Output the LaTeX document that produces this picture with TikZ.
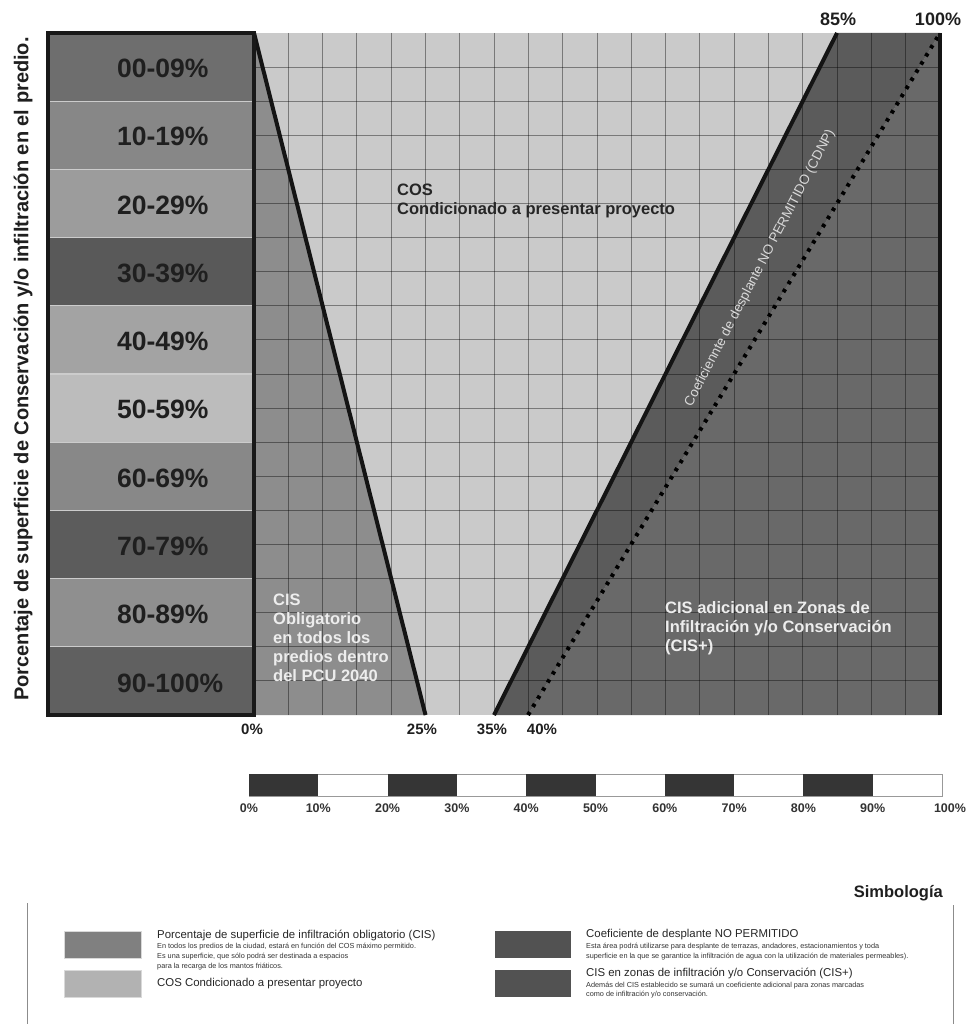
\documentclass[tikz,border=0pt]{standalone}
\usepackage{fontspec}
\setmainfont{Liberation Sans}
\definecolor{cosgray}{HTML}{CACACA}
\definecolor{cisgray}{HTML}{8D8D8D}
\definecolor{cdnpgray}{HTML}{5B5B5B}
\definecolor{cisplus}{HTML}{696969}
\definecolor{bardark}{HTML}{353535}
\begin{document}
\begin{tikzpicture}[x=1pt,y=-1pt,
  bandlbl/.style={font=\fontsize{26.5}{30}\selectfont\bfseries, text=black!88, anchor=west, inner sep=0},
  pctlbl/.style={font=\fontsize{15}{17}\selectfont\bfseries, text=black!88, inner sep=0},
  toplbl/.style={font=\fontsize{18}{20}\selectfont\bfseries, text=black!88, inner sep=0},
  scalelbl/.style={font=\fontsize{12.5}{14}\selectfont\bfseries, text=black!80, inner sep=0},
  zonetxt/.style={font=\fontsize{16.5}{19}\selectfont\bfseries, align=left, anchor=north west, inner sep=0},
  legtitle/.style={font=\fontsize{11.4}{13}\selectfont, text=black!85, anchor=west, inner sep=0},
  legsmall/.style={font=\fontsize{7.3}{10}\selectfont, text=black!80, align=left, anchor=north west, inner sep=0},
  gridln/.style={black, opacity=0.4, line width=1pt},
  bound/.style={black!92, line width=4pt},
  swatch/.style={draw=black!15, line width=0.6pt}
]
\useasboundingbox (0,0) rectangle (969,1024);
\fill[white] (0,0) rectangle (969,1024);

% ---- chart regions ----
\coordinate (TL) at (254,33);
\coordinate (TR) at (940,33);
\coordinate (BL) at (254,715);
\coordinate (BR) at (940,715);
\coordinate (p25) at (425.5,715);
\coordinate (p35) at (494,715);
\coordinate (p40) at (528,715);
\coordinate (p85) at (837,33);

\fill[cosgray] (TL) rectangle (BR);
\fill[cisgray] (TL) -- (p25) -- (BL) -- cycle;
\fill[cisplus] (p40) -- (TR) -- (BR) -- cycle;
\fill[cdnpgray] (p35) -- (p85) -- (TR) -- (p40) -- cycle;

% grid
\foreach \i in {1,...,19} {
  \draw[gridln] (254+\i*34.3,33) -- (254+\i*34.3,715);
  \draw[gridln] (254,33+\i*34.1) -- (940,33+\i*34.1);
}

% boundary lines
\draw[bound] (TL) -- (p25);
\draw[bound] (p35) -- (p85);
\draw[black, line width=4pt, dash pattern=on 3.5pt off 6pt] (p40) -- (TR);
\draw[black!92, line width=3.5pt] (TR) -- (BR);

% ---- left bands ----
\foreach \c [count=\k from 0] in {6E6E6E,878787,9C9C9C,595959,A3A3A3,BCBCBC,888888,5C5C5C,8F8F8F,606060} {
  \definecolor{bandc}{HTML}{\c}
  \fill[bandc] (48,33+\k*68.2) rectangle (254,33+\k*68.2+68.2);
}
\foreach \k in {1,...,9} {
  \draw[white!80!black, line width=1.1pt] (48,33+\k*68.2) -- (254,33+\k*68.2);
}
\draw[black!90, line width=4.5pt] (48,33) rectangle (254,715);

\node[bandlbl] (b0) at (117,68.5) {00-09\%};
\node[bandlbl] (b1) at (117,136.5) {10-19\%};
\node[bandlbl] (b2) at (117,205) {20-29\%};
\node[bandlbl] (b3) at (117,273) {30-39\%};
\node[bandlbl] (b4) at (117,341.5) {40-49\%};
\node[bandlbl] (b5) at (117,409.5) {50-59\%};
\node[bandlbl] (b6) at (117,478) {60-69\%};
\node[bandlbl] (b7) at (117,546) {70-79\%};
\node[bandlbl] (b8) at (117,614.5) {80-89\%};
\node[bandlbl] (b9) at (117,683) {90-100\%};

% axis label
\node[font=\fontsize{20}{22}\selectfont\bfseries, text=black!88, rotate=90, inner sep=0] (ylab) at (23,369)
  {Porcentaje de superficie de Conservación y/o infiltración en el predio.};

% percentage labels
\node[toplbl] (t85) at (838,19) {85\%};
\node[toplbl] (t100) at (938,19) {100\%};
\node[pctlbl] (l0) at (252,729) {0\%};
\node[pctlbl] (l25) at (422,729) {25\%};
\node[pctlbl] (l35) at (492,729) {35\%};
\node[pctlbl] (l40) at (542,729) {40\%};

% zone texts
\node[zonetxt, text=black!85] (cos) at (397,183.5) {COS\\Condicionado a presentar proyecto};
\node[zonetxt, text=white!93!black] (cis) at (273,593.5) {CIS\\Obligatorio\\en todos los\\predios dentro\\del PCU 2040};
\node[zonetxt, text=white!93!black] (cisp) at (665,601.5) {CIS adicional en Zonas de\\Infiltración y/o Conservación\\(CIS+)};
\node[font=\fontsize{13.5}{15}\selectfont, text=white!85!black, rotate=62.5, inner sep=0] (cdnp) at (760,268)
  {Coeficiennte de desplante NO PERMITIDO (CDNP)};

% ---- scale bar ----
\draw[black!40, line width=0.8pt] (249,774) rectangle (942,796);
\foreach \i in {0,2,4,6,8} {
  \fill[bardark] (249+\i*69.3,774) rectangle (249+\i*69.3+69.3,796);
}
\node[scalelbl] (s0) at (249,808) {0\%};
\node[scalelbl] (s1) at (318.3,808) {10\%};
\node[scalelbl] (s2) at (387.6,808) {20\%};
\node[scalelbl] (s3) at (456.9,808) {30\%};
\node[scalelbl] (s4) at (526.2,808) {40\%};
\node[scalelbl] (s5) at (595.5,808) {50\%};
\node[scalelbl] (s6) at (664.8,808) {60\%};
\node[scalelbl] (s7) at (734.1,808) {70\%};
\node[scalelbl] (s8) at (803.4,808) {80\%};
\node[scalelbl] (s9) at (872.7,808) {90\%};
\node[scalelbl] (s10) at (950,808) {100\%};

% ---- legend ----
\node[font=\fontsize{16.5}{19}\selectfont\bfseries, text=black!88, anchor=east, inner sep=0] (simb) at (943,893) {Simbología};
\draw[black!45, line width=0.8pt] (27,903) -- (27,1024);
\draw[black!45, line width=0.8pt] (953,905) -- (953,1024);

\fill[swatch, fill=black!50] (64,931) rectangle (141,958);
\fill[swatch, fill=black!30] (64,970) rectangle (141,997);
\draw[swatch] (64,931) rectangle (141,958);
\draw[swatch] (64,970) rectangle (141,997);
\fill[fill=black!68] (495,931) rectangle (571,958);
\fill[fill=black!68] (495,970) rectangle (571,997);

\node[legtitle] (lg1) at (157,935) {Porcentaje de superficie de infiltración obligatorio (CIS)};
\node[legsmall] (lg1s) at (157,943) {En todos los predios de la ciudad, estará en función del COS máximo permitido.\\Es una superficie, que sólo podrá ser destinada a espacios\\para la recarga de los mantos friáticos.};
\node[legtitle] (lg2) at (157,984) {COS Condicionado a presentar proyecto};
\node[legtitle] (lg3) at (586,935) {Coeficiente de desplante NO PERMITIDO};
\node[legsmall] (lg3s) at (586,943) {Esta área podrá utilizarse para desplante de terrazas, andadores, estacionamientos y toda\\superficie en la que se garantice la infiltración de agua con la utilización de materiales permeables).};
\node[legtitle] (lg4) at (586,973) {CIS en zonas de infiltración y/o Conservación (CIS+)};
\node[legsmall, font=\fontsize{7.3}{9.5}\selectfont] (lg4s) at (586,981.5) {Además del CIS establecido se sumará un coeficiente adicional para zonas marcadas\\como de infiltración y/o conservación.};
\end{tikzpicture}
\end{document}
